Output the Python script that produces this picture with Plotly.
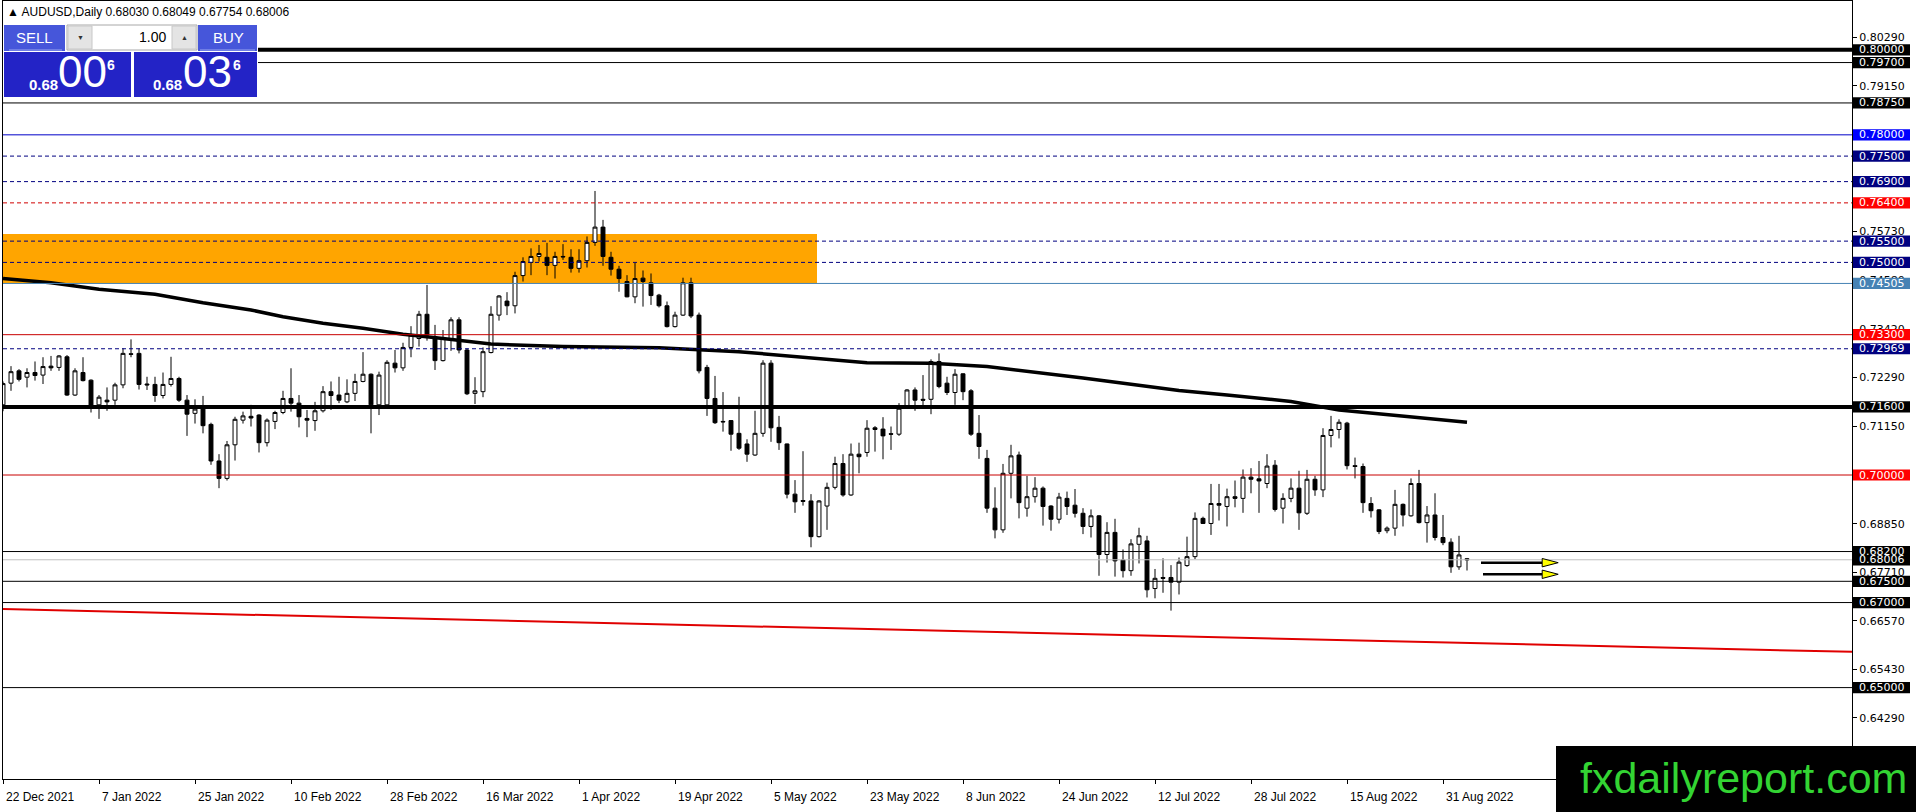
import plotly.graph_objects as go

# ---------------- data ----------------
header = "AUDUSD,Daily  0.68030 0.68049 0.67754 0.68006"

date_labels = ["22 Dec 2021", "7 Jan 2022", "25 Jan 2022", "10 Feb 2022", "28 Feb 2022",
               "16 Mar 2022", "1 Apr 2022", "19 Apr 2022", "5 May 2022", "23 May 2022",
               "8 Jun 2022", "24 Jun 2022", "12 Jul 2022", "28 Jul 2022", "15 Aug 2022",
               "31 Aug 2022"]
date_bars = [0, 12, 24, 36, 48, 60, 72, 84, 96, 108, 120, 132, 144, 156, 168, 180]

opens = [0.7165, 0.7216, 0.7245, 0.7230, 0.7241, 0.7235, 0.7256, 0.7253, 0.7278, 0.7188,
         0.7241, 0.7223, 0.7165, 0.7176, 0.7176, 0.7212, 0.7285, 0.7286, 0.7214, 0.7213,
         0.7187, 0.7213, 0.7227, 0.7176, 0.7145, 0.7161, 0.7119, 0.7033, 0.6992, 0.7071,
         0.7129, 0.7138, 0.7141, 0.7076, 0.7126, 0.7147, 0.7180, 0.7169, 0.7133, 0.7128,
         0.7151, 0.7196, 0.7188, 0.7172, 0.7192, 0.7220, 0.7237, 0.7165, 0.7165, 0.7263,
         0.7252, 0.7300, 0.7321, 0.7378, 0.7325, 0.7269, 0.7318, 0.7365, 0.7294, 0.7192,
         0.7196, 0.7288, 0.7376, 0.7409, 0.7398, 0.7469, 0.7500, 0.7514, 0.7512, 0.7493,
         0.7514, 0.7512, 0.7486, 0.7504, 0.7547, 0.7583, 0.7512, 0.7484, 0.7455, 0.7419,
         0.7463, 0.7452, 0.7423, 0.7398, 0.7349, 0.7376, 0.7452, 0.7376, 0.7253, 0.7180,
         0.7126, 0.7128, 0.7098, 0.7073, 0.7047, 0.7098, 0.7263, 0.7112, 0.7073, 0.6955,
         0.6940, 0.6939, 0.6855, 0.6927, 0.6971, 0.7027, 0.6953, 0.7049, 0.7053, 0.7111,
         0.7108, 0.7097, 0.7096, 0.7162, 0.7200, 0.7178, 0.7178, 0.7267, 0.7216, 0.7194,
         0.7238, 0.7198, 0.7098, 0.7039, 0.6922, 0.6871, 0.7004, 0.7047, 0.6922, 0.6949,
         0.6969, 0.6927, 0.6896, 0.6945, 0.6929, 0.6910, 0.6879, 0.6904, 0.6813, 0.6865,
         0.6800, 0.6775, 0.6837, 0.6845, 0.6733, 0.6759, 0.6759, 0.6748, 0.6787, 0.6808,
         0.6898, 0.6886, 0.6933, 0.6926, 0.6949, 0.6945, 0.6995, 0.6991, 0.6980, 0.7023,
         0.6922, 0.6945, 0.6969, 0.6910, 0.6990, 0.6965, 0.7093, 0.7107, 0.7122, 0.7022,
         0.7020, 0.6933, 0.6918, 0.6869, 0.6875, 0.6931, 0.6904, 0.6980, 0.6888, 0.6906,
         0.6853, 0.6842, 0.6784, 0.68030]
highs = [0.7220, 0.7256, 0.7249, 0.7251, 0.7267, 0.7277, 0.7280, 0.7282, 0.7282, 0.7251,
         0.7277, 0.7225, 0.7188, 0.7206, 0.7217, 0.7298, 0.7319, 0.7298, 0.7231, 0.7231,
         0.7241, 0.7278, 0.7231, 0.7188, 0.7178, 0.7186, 0.7123, 0.7049, 0.7080, 0.7137,
         0.7149, 0.7165, 0.7143, 0.7133, 0.7151, 0.7198, 0.7251, 0.7188, 0.7153, 0.7172,
         0.7209, 0.7220, 0.7231, 0.7225, 0.7238, 0.7289, 0.7239, 0.7243, 0.7270, 0.7294,
         0.7311, 0.7350, 0.7386, 0.7447, 0.7353, 0.7341, 0.7371, 0.7371, 0.7298, 0.7230,
         0.7300, 0.7397, 0.7423, 0.7430, 0.7478, 0.7512, 0.7533, 0.7541, 0.7546, 0.7525,
         0.7543, 0.7531, 0.7531, 0.7561, 0.7668, 0.7600, 0.7525, 0.7492, 0.7470, 0.7499,
         0.7481, 0.7474, 0.7426, 0.7408, 0.7384, 0.7464, 0.7464, 0.7382, 0.7259, 0.7233,
         0.7195, 0.7129, 0.7184, 0.7084, 0.7151, 0.7270, 0.7270, 0.7139, 0.7074, 0.6988,
         0.7056, 0.6955, 0.6941, 0.6982, 0.7043, 0.7049, 0.7074, 0.7076, 0.7129, 0.7115,
         0.7136, 0.7114, 0.7169, 0.7202, 0.7206, 0.7235, 0.7272, 0.7286, 0.7231, 0.7249,
         0.7239, 0.7202, 0.7141, 0.7059, 0.6971, 0.7026, 0.7071, 0.7055, 0.6998, 0.6995,
         0.6973, 0.6929, 0.6958, 0.6961, 0.6967, 0.6922, 0.6919, 0.6906, 0.6889, 0.6897,
         0.6825, 0.6849, 0.6876, 0.6857, 0.6779, 0.6804, 0.6788, 0.6806, 0.6855, 0.6912,
         0.6902, 0.6979, 0.6979, 0.6968, 0.6987, 0.7013, 0.7016, 0.7033, 0.7049, 0.7035,
         0.6957, 0.6992, 0.7010, 0.7012, 0.6998, 0.7110, 0.7139, 0.7131, 0.7125, 0.7041,
         0.7027, 0.6948, 0.6920, 0.6879, 0.6965, 0.6933, 0.6992, 0.7012, 0.6927, 0.6957,
         0.6906, 0.6851, 0.6857, 0.68049]
lows = [0.7150, 0.7198, 0.7220, 0.7206, 0.7222, 0.7214, 0.7245, 0.7245, 0.7186, 0.7186,
        0.7220, 0.7147, 0.7132, 0.7151, 0.7165, 0.7204, 0.7277, 0.7201, 0.7200, 0.7172,
        0.7180, 0.7208, 0.7172, 0.7092, 0.7121, 0.7098, 0.7024, 0.6969, 0.6987, 0.7034,
        0.7121, 0.7114, 0.7053, 0.7067, 0.7108, 0.7143, 0.7149, 0.7112, 0.7089, 0.7104,
        0.7147, 0.7153, 0.7169, 0.7169, 0.7174, 0.7218, 0.7098, 0.7141, 0.7164, 0.7241,
        0.7245, 0.7277, 0.7302, 0.7316, 0.7247, 0.7267, 0.7292, 0.7286, 0.7188, 0.7167,
        0.7183, 0.7286, 0.7363, 0.7376, 0.7380, 0.7455, 0.7470, 0.7502, 0.7470, 0.7462,
        0.7506, 0.7476, 0.7476, 0.7488, 0.7539, 0.7492, 0.7469, 0.7431, 0.7418, 0.7404,
        0.7396, 0.7400, 0.7394, 0.7347, 0.7347, 0.7374, 0.7369, 0.7239, 0.7139, 0.7120,
        0.7102, 0.7057, 0.7059, 0.7031, 0.7045, 0.7090, 0.7078, 0.7059, 0.6945, 0.6911,
        0.6928, 0.6830, 0.6853, 0.6871, 0.6966, 0.6949, 0.6951, 0.7004, 0.7043, 0.7055,
        0.7037, 0.7059, 0.7092, 0.7159, 0.7151, 0.7162, 0.7143, 0.7204, 0.7188, 0.7165,
        0.7176, 0.7092, 0.7038, 0.6911, 0.6851, 0.6864, 0.6945, 0.6898, 0.6902, 0.6935,
        0.6881, 0.6869, 0.6886, 0.6906, 0.6900, 0.6861, 0.6853, 0.6763, 0.6794, 0.6761,
        0.6759, 0.6763, 0.6792, 0.6712, 0.6710, 0.6723, 0.6681, 0.6719, 0.6784, 0.6802,
        0.6885, 0.6859, 0.6893, 0.6879, 0.6924, 0.6911, 0.6957, 0.6911, 0.6969, 0.6914,
        0.6886, 0.6936, 0.6871, 0.6906, 0.6951, 0.6948, 0.7065, 0.7086, 0.7013, 0.6992,
        0.6911, 0.6900, 0.6861, 0.6863, 0.6857, 0.6879, 0.6902, 0.6886, 0.6841, 0.6846,
        0.6835, 0.6770, 0.6777, 0.67754]
closes = [0.7215, 0.7243, 0.7225, 0.7241, 0.7234, 0.7255, 0.7252, 0.7280, 0.7188, 0.7245,
          0.7222, 0.7161, 0.7183, 0.7172, 0.7212, 0.7286, 0.7284, 0.7213, 0.7212, 0.7187,
          0.7213, 0.7227, 0.7176, 0.7143, 0.7155, 0.7116, 0.7033, 0.6992, 0.7071, 0.7131,
          0.7139, 0.7134, 0.7076, 0.7129, 0.7147, 0.7180, 0.7169, 0.7137, 0.7129, 0.7151,
          0.7196, 0.7187, 0.7176, 0.7192, 0.7220, 0.7237, 0.7165, 0.7235, 0.7265, 0.7252,
          0.7300, 0.7329, 0.7378, 0.7329, 0.7269, 0.7321, 0.7365, 0.7294, 0.7191, 0.7198,
          0.7290, 0.7378, 0.7421, 0.7398, 0.7469, 0.7502, 0.7514, 0.7521, 0.7493, 0.7514,
          0.7513, 0.7486, 0.7504, 0.7547, 0.7583, 0.7514, 0.7484, 0.7462, 0.7419, 0.7462,
          0.7455, 0.7422, 0.7398, 0.7349, 0.7376, 0.7452, 0.7374, 0.7245, 0.7180, 0.7123,
          0.7125, 0.7096, 0.7063, 0.7049, 0.7098, 0.7263, 0.7111, 0.7076, 0.6955, 0.6937,
          0.6938, 0.6855, 0.6939, 0.6971, 0.7027, 0.6953, 0.7049, 0.7043, 0.7110, 0.7107,
          0.7092, 0.7096, 0.7157, 0.7200, 0.7176, 0.7176, 0.7267, 0.7208, 0.7194, 0.7237,
          0.7196, 0.7096, 0.7067, 0.6922, 0.6871, 0.7004, 0.7045, 0.6935, 0.6949, 0.6969,
          0.6926, 0.6896, 0.6948, 0.6926, 0.6910, 0.6879, 0.6904, 0.6813, 0.6865, 0.6798,
          0.6775, 0.6838, 0.6857, 0.6730, 0.6757, 0.6757, 0.6748, 0.6795, 0.6808, 0.6898,
          0.6886, 0.6933, 0.6929, 0.6949, 0.6945, 0.6995, 0.6990, 0.6986, 0.7021, 0.6919,
          0.6945, 0.6969, 0.6911, 0.6990, 0.6965, 0.7093, 0.7107, 0.7124, 0.7022, 0.7020,
          0.6935, 0.6916, 0.6867, 0.6875, 0.6931, 0.6906, 0.6980, 0.6888, 0.6906, 0.6853,
          0.6841, 0.6784, 0.6812, 0.68006]
bars = list(range(len(closes)))

# moving average (read at a few bars)
ma_bars = [0, 6, 12, 19, 25, 31, 35, 40, 45, 50, 55, 61, 70, 82, 92, 102, 108, 116, 123,
           135, 147, 153, 161, 167, 174, 183]
ma_vals = [0.7462, 0.7452, 0.7437, 0.7425, 0.7405, 0.7388, 0.7372, 0.7357, 0.7345, 0.7331,
           0.7321, 0.7308, 0.7302, 0.7299, 0.7290, 0.7274, 0.7264, 0.7263, 0.7255,
           0.7228, 0.7199, 0.7188, 0.7173, 0.7153, 0.7141, 0.7124]

# red trend line and orange zone
trend_bars = [-0.5, 231.2]
trend_vals = [0.6685, 0.6584]
zone_bars = [-0.5, 101.75]
zone_vals = [0.74505, 0.7567]

# horizontal levels (price labels on the right)
levels = [0.80000, 0.79700, 0.78750, 0.78000, 0.77500, 0.76900, 0.76400, 0.75500, 0.75000,
          0.74505, 0.73300, 0.72969, 0.71600, 0.70000, 0.68200, 0.67500, 0.67000, 0.65000]
bid = 0.68006

price_ticks = [0.80290, 0.79150, 0.78010, 0.76870, 0.75730, 0.74580, 0.73420, 0.72290,
               0.71150, 0.70010, 0.68850, 0.67710, 0.66570, 0.65430, 0.64290]

# yellow arrows
arrow_vals = [0.67938, 0.67665]
arrow_from = [184.75, 185.0]
arrow_to = [194.4, 194.4]

# ---------------- page geometry ----------------
W, H = 1916, 812
L, R, T, B = 3, 64, 1, 33
PW, PH = W - L - R, H - T - B
PX_PER_UNIT = 4252.0
y_lo = 0.80 - (779 - 49.8) / PX_PER_UNIT
y_hi = 0.80 + (49.8 - 1) / PX_PER_UNIT
x_lo, x_hi = 0.0, PW / 8.0


def fx(px):
    return (px - L) / PW


def fy(py):
    return 1 - (py - T) / PH


NAVY = "#000080"
line_style = {
    "0.80000": ("black", 4, "solid", "black"),
    "0.79700": ("black", 1, "solid", "black"),
    "0.78750": ("black", 1, "solid", "black"),
    "0.78000": ("#0000C8", 1, "solid", "#0000FF"),
    "0.77500": (NAVY, 1, "4px,3px", NAVY),
    "0.76900": (NAVY, 1, "4px,3px", NAVY),
    "0.76400": ("#D00000", 1, "4px,3px", "#FF0000"),
    "0.75500": (NAVY, 1, "4px,3px", NAVY),
    "0.75000": (NAVY, 1, "4px,3px", NAVY),
    "0.74505": ("#4682B4", 1, "solid", "#4682B4"),
    "0.73300": ("#C80000", 1, "solid", "#FF0000"),
    "0.72969": (NAVY, 1, "4px,3px", NAVY),
    "0.71600": ("black", 4, "solid", "black"),
    "0.70000": ("#C80000", 1, "solid", "#FF0000"),
    "0.68200": ("black", 1, "solid", "black"),
    "0.67500": ("black", 1, "solid", "black"),
    "0.67000": ("black", 1, "solid", "black"),
    "0.65000": ("black", 1, "solid", "black"),
}

fig = go.Figure()

fig.add_trace(go.Candlestick(
    x=bars, open=opens, high=highs, low=lows, close=closes,
    increasing=dict(line=dict(color="black", width=1), fillcolor="white"),
    decreasing=dict(line=dict(color="black", width=1), fillcolor="black"),
    whiskerwidth=0, hoverinfo="skip", showlegend=False))

fig.add_trace(go.Scatter(x=ma_bars, y=ma_vals, mode="lines",
                         line=dict(color="black", width=3.5), hoverinfo="skip"))
fig.add_trace(go.Scatter(x=trend_bars, y=trend_vals, mode="lines",
                         line=dict(color="#E00000", width=2), hoverinfo="skip"))

shapes = []
annotations = []

# orange zone, behind candles
shapes.append(dict(type="rect", xref="x", yref="y", x0=zone_bars[0], x1=zone_bars[1],
                   y0=zone_vals[0], y1=zone_vals[1], fillcolor="#FFA500",
                   line=dict(width=0), layer="below"))

# bid line first so the 0.68200 label sits on top of its label
shapes.append(dict(type="line", xref="paper", yref="y", x0=0, x1=1, y0=bid, y1=bid,
                   line=dict(color="#C0C0C0", width=1), layer="above"))
label_list = [(bid, "black")]
for lv in levels:
    col, wd, dash, lab = line_style[f"{lv:.5f}"]
    shapes.append(dict(type="line", xref="paper", yref="y", x0=0, x1=1, y0=lv, y1=lv,
                       line=dict(color=col, width=wd, dash=dash), layer="above"))
    label_list.append((lv, lab))

half = 5.6 / PX_PER_UNIT
for lv, lab in label_list:
    shapes.append(dict(type="rect", xref="paper", yref="y", x0=fx(1853), x1=fx(1910),
                       y0=lv - half, y1=lv + half, fillcolor=lab, line=dict(width=0),
                       layer="above"))
    annotations.append(dict(xref="paper", yref="y", x=fx(1857), y=lv, xanchor="left",
                            yanchor="middle", text=f"{lv:.5f}", showarrow=False,
                            font=dict(family="DejaVu Sans", size=11, color="white")))

# arrows
for av, a0, a1 in zip(arrow_vals, arrow_from, arrow_to):
    head = a1 - 2.0
    shapes.append(dict(type="line", xref="x", yref="y", x0=a0, x1=head, y0=av, y1=av,
                       line=dict(color="black", width=2.5), layer="above"))
    hh = 4.2 / PX_PER_UNIT
    shapes.append(dict(type="path", xref="x", yref="y",
                       path=f"M {head},{av + hh} L {a1},{av} L {head},{av - hh} Z",
                       fillcolor="#FFFF00", line=dict(color="black", width=1),
                       layer="above"))

# x-axis date labels (MT4 style, left aligned at tick)
for d, b in zip(date_labels, date_bars):
    annotations.append(dict(xref="x", yref="paper", x=b, y=fy(797), xanchor="left",
                            yanchor="middle", text=d, showarrow=False, xshift=1,
                            font=dict(family="Liberation Sans", size=12, color="black")))

# ---------------- one-click trading panel ----------------
BTN = "#4656DA"
PANEL = "#2323C6"


def box(x0, y0, x1, y1, fill, border=None):
    shapes.append(dict(type="rect", xref="paper", yref="paper", x0=fx(x0), x1=fx(x1),
                       y0=fy(y1), y1=fy(y0), fillcolor=fill,
                       line=dict(width=1 if border else 0, color=border or fill),
                       layer="above"))


def text(px, py, s, size, color="white", anchor="center", family="Liberation Sans"):
    annotations.append(dict(xref="paper", yref="paper", x=fx(px), y=fy(py), text=s,
                            xanchor=anchor, yanchor="middle", showarrow=False,
                            font=dict(family=family, size=size, color=color)))


box(3, 24, 258, 98, "white")
box(4, 25, 65, 51, BTN)
shapes.append(dict(type="line", xref="paper", yref="paper", x0=fx(9), x1=fx(62),
                   y0=fy(50), y1=fy(50), line=dict(color="#9AA6F0", width=1),
                   layer="above"))
box(67, 25, 197, 50, "white", "#A8A8A8")
box(68, 26, 92, 49, "#E4E4E4", "#C8C8C8")
box(172, 26, 196, 49, "#E4E4E4", "#C8C8C8")
box(198, 25, 257, 51, BTN)
shapes.append(dict(type="line", xref="paper", yref="paper", x0=fx(200), x1=fx(255),
                   y0=fy(50), y1=fy(50), line=dict(color="#9AA6F0", width=1),
                   layer="above"))
box(4, 52, 131, 97, PANEL)
box(134, 52, 257, 97, PANEL)

text(34, 37, "SELL", 15)
text(228, 37, "BUY", 15)
text(80, 37, "\u25BC", 7, color="#333333")
text(184, 37, "\u25B2", 7, color="#333333")
text(168, 37, "1.00", 14, color="black", anchor="right")
text(27, 84, "<b>0.68</b>", 15, anchor="left")
text(56, 72, "00", 44, anchor="left")
text(105, 65, "<b>6</b>", 14, anchor="left")
text(151, 84, "<b>0.68</b>", 15, anchor="left")
text(181, 72, "03", 44, anchor="left")
text(231, 65, "<b>6</b>", 14, anchor="left")

# header line
text(5, 12, "\u25B2 " + header.replace("  ", " "), 12, color="black", anchor="left")

# watermark
box(1556, 746, 1916, 812, "black")
text(1743, 778, "fxdailyreport.com", 43, color="#33D433")

fig.update_layout(
    width=W, height=H,
    margin=dict(l=L, r=R, t=T, b=B),
    paper_bgcolor="white", plot_bgcolor="white",
    showlegend=False,
    shapes=shapes, annotations=annotations,
    xaxis=dict(range=[x_lo, x_hi], showgrid=False, zeroline=False,
               tickvals=date_bars, ticks="outside", ticklen=4, tickcolor="black",
               showticklabels=False, showline=True, linecolor="black", linewidth=1,
               mirror=True, rangeslider=dict(visible=False), fixedrange=True),
    yaxis=dict(range=[y_lo, y_hi], side="right", showgrid=False, zeroline=False,
               tickvals=price_ticks, ticktext=[f"{v:.5f}" for v in price_ticks],
               ticks="outside", ticklen=4, tickcolor="black",
               tickfont=dict(family="DejaVu Sans", size=11, color="black"),
               showline=True, linecolor="black", linewidth=1, mirror=True,
               fixedrange=True),
)

# page body has a default margin; drop it so the figure fills the window
fig.write_html("out.html", config={"displayModeBar": False},
               post_script="document.body.style.margin='0';")
